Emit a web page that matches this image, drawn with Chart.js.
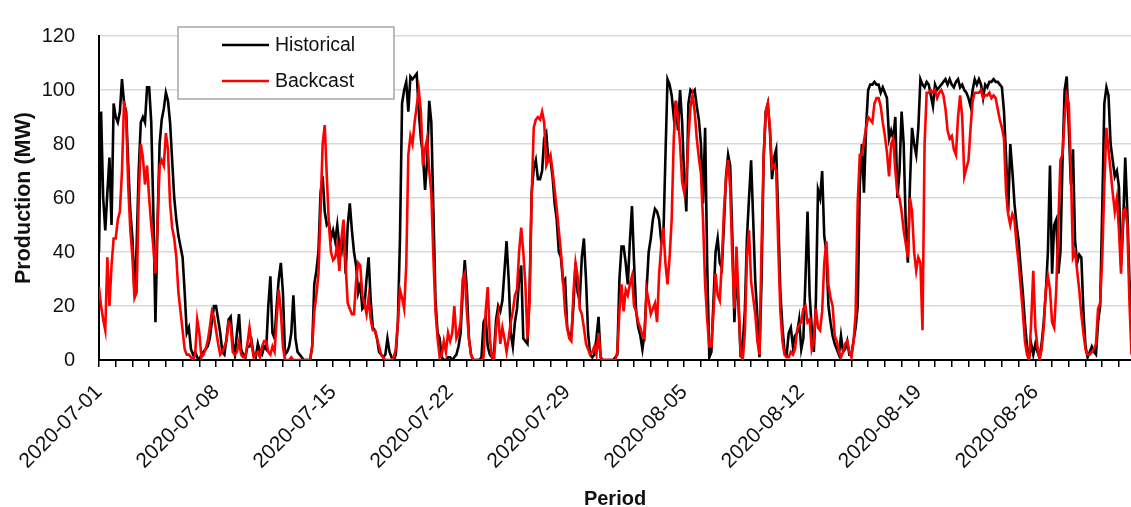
<!DOCTYPE html>
<html>
<head>
<meta charset="utf-8">
<script src="https://cdn.jsdelivr.net/npm/chart.js@4.4.1/dist/chart.umd.min.js"></script>
<style>
  html, body { margin: 0; padding: 0; background: #ffffff; }
  canvas { display: block; }
</style>
</head>
<body>
<canvas id="chart" width="1131" height="507"></canvas>
<script>
// Hourly production sampled every 3 hours, starting 2020-07-01 00:00
const STEP_HOURS = 3;
const weekTickLabels = ['2020-07-01', '2020-07-08', '2020-07-15', '2020-07-22', '2020-07-29',
                        '2020-08-05', '2020-08-12', '2020-08-19', '2020-08-26'];

// Measured production (MW), one row per day
const historical = [
  40, 92, 60, 48, 62, 75, 50, 95,
  90, 88, 92, 104, 95, 92, 72, 55,
  45, 24, 42, 70, 88, 90, 88, 101,
  101, 88, 55, 14, 50, 80, 89, 93,
  99, 96, 88, 74, 60, 52, 46, 42,
  38, 25, 10, 12, 4, 2, 3, 1,
  0, 2, 3, 4, 5, 8, 14, 20,
  20, 15, 10, 3, 2, 8, 15, 16,
  6, 2, 10, 17, 4, 2, 1, 5,
  5, 7, 2, 1, 6, 3, 2, 5,
  4, 20, 31, 10, 8, 20, 30, 36,
  25, 2, 3, 5, 10, 24, 8, 3,
  2, 1, 0, 0, 0, 0, 5, 28,
  33, 40, 62, 68, 55, 50, 51, 45,
  48, 44, 50, 42, 40, 50, 32, 50,
  58, 48, 40, 35, 25, 28, 19, 20,
  30, 38, 22, 12, 11, 8, 3, 2,
  1, 2, 8, 3, 1, 0, 2, 14,
  45, 95, 100, 103, 92, 105, 104, 105,
  106, 92, 82, 76, 63, 74, 96, 88,
  55, 22, 10, 8, 1, 0, 0, 1,
  1, 0, 1, 2, 5, 10, 25, 37,
  26, 8, 2, 0, 0, 0, 0, 1,
  14, 16, 5, 2, 1, 3, 15, 20,
  18, 22, 33, 44, 30, 10, 5, 14,
  19, 30, 35, 8, 7, 6, 25, 62,
  71, 74, 67, 67, 70, 82, 84, 74,
  74, 68, 58, 52, 40, 38, 29, 30,
  12, 9, 9, 20, 36, 25, 22, 38,
  45, 30, 10, 2, 1, 2, 8, 16,
  1, 0, 0, 0, 0, 0, 0, 1,
  2, 30, 42, 42, 36, 28, 44, 57,
  36, 18, 12, 9, 4, 10, 26, 40,
  45, 52, 56, 55, 52, 44, 45, 75,
  104, 102, 98, 90, 96, 85, 100, 88,
  67, 55, 95, 100, 99, 100, 94, 89,
  80, 58, 86, 35, 1, 3, 22, 40,
  45, 36, 34, 50, 68, 76, 72, 46,
  14, 34, 20, 1, 6, 18, 45, 60,
  74, 52, 29, 16, 1, 30, 75, 92,
  95, 85, 67, 75, 78, 52, 25, 12,
  3, 2, 10, 12, 5, 9, 10, 15,
  4, 8, 30, 55, 24, 12, 3, 22,
  63, 60, 70, 46, 40, 20, 14, 9,
  6, 4, 2, 9, 3, 4, 7, 2,
  2, 7, 12, 20, 65, 80, 62, 86,
  100, 102, 102, 103, 102, 102, 99, 101,
  99, 97, 82, 85, 82, 90, 60, 70,
  92, 80, 50, 36, 65, 86, 80, 76,
  86, 104, 102, 101, 103, 102, 98, 94,
  102, 100, 101, 102, 103, 104, 102, 104,
  102, 101, 103, 104, 101, 102, 100, 99,
  97, 94, 100, 104, 102, 104, 102, 97,
  102, 101, 103, 103, 104, 103, 103, 102,
  101, 92, 75, 55, 80, 70, 58, 50,
  44, 34, 25, 14, 5, 1, 6, 2,
  6, 3, 1, 6, 14, 25, 40, 72,
  32, 50, 52, 32, 40, 74, 100, 105,
  86, 65, 78, 44, 36, 39, 38, 18,
  5, 1, 3, 5, 3, 2, 14, 20,
  56, 95, 101, 98, 80, 74, 68, 70,
  64, 35, 50, 75, 55, 30, 15
];

// Backcast production (MW), one row per day
const backcast = [
  27, 20, 15, 11, 38, 20, 35, 45,
  45, 52, 55, 70, 96, 90, 64, 48,
  38, 23, 25, 60, 80, 75, 65, 72,
  60, 50, 42, 32, 50, 72, 74, 72,
  84, 78, 58, 49, 45, 38, 25, 18,
  11, 4, 2, 2, 1, 0, 2, 15,
  10, 1, 2, 4, 7, 12, 18, 16,
  11, 6, 2, 3, 5, 7, 14, 13,
  3, 2, 3, 7, 2, 1, 1, 6,
  12, 6, 1, 2, 3, 1, 5, 7,
  7, 3, 2, 5, 3, 15, 26, 18,
  5, 0, 0, 0, 1, 0, 0, 0,
  0, 0, 0, 0, 0, 0, 5, 18,
  24, 32, 55, 80, 87, 68, 50, 40,
  37, 38, 43, 33, 45, 52, 35, 21,
  19, 17, 17, 29, 36, 35, 24, 21,
  17, 23, 15, 11, 11, 8, 5, 2,
  1, 0, 0, 0, 0, 1, 4, 14,
  26, 23, 19, 35, 76, 83, 80, 88,
  94, 100, 92, 72, 78, 82, 70, 62,
  38, 18, 8, 1, 2, 7, 3, 10,
  7, 10, 20, 8, 10, 14, 30, 32,
  18, 8, 2, 0, 0, 0, 0, 0,
  1, 18, 27, 8, 1, 0, 12, 17,
  6, 12, 8, 3, 8, 14, 18, 24,
  26, 40, 49, 40, 28, 8, 22, 60,
  86, 89, 90, 89, 92, 88, 72, 74,
  76, 70, 63, 56, 48, 40, 30, 18,
  12, 8, 7, 25, 36, 31, 19, 17,
  12, 6, 4, 2, 3, 5, 2, 10,
  1, 0, 0, 0, 0, 0, 0, 0,
  3, 18, 28, 18, 26, 24, 28, 31,
  20, 18, 14, 12, 9, 8, 26, 22,
  17, 19, 21, 14, 32, 42, 49, 36,
  28, 38, 52, 82, 96, 90, 80, 66,
  62, 67, 82, 94, 98, 92, 82, 75,
  69, 52, 28, 15, 5, 5, 18, 32,
  24, 22, 36, 55, 67, 74, 64, 38,
  19, 42, 22, 2, 0, 10, 38, 48,
  29, 23, 17, 7, 2, 42, 75, 92,
  95, 86, 71, 72, 70, 42, 18, 7,
  2, 1, 1, 3, 2, 4, 11, 13,
  14, 19, 20, 14, 15, 4, 7, 19,
  12, 11, 18, 36, 44, 28, 23, 20,
  9, 7, 3, 1, 3, 6, 7, 3,
  1, 7, 17, 58, 76, 76, 81, 86,
  90, 89, 88, 95, 97, 97, 94, 88,
  83, 77, 68, 80, 82, 70, 62, 60,
  55, 48, 43, 38, 60, 55, 40, 33,
  38, 36, 11, 80, 99, 99, 100, 99,
  100, 97, 99, 100, 98, 93, 85, 82,
  83, 78, 76, 90, 98, 90, 68, 71,
  74, 86, 96, 99, 99, 99, 100, 97,
  98, 98, 99, 97, 98, 97, 93, 89,
  86, 82, 62, 54, 50, 54, 52, 43,
  36, 27, 18, 7, 2, 0, 14, 33,
  12, 5, 0, 4, 12, 26, 31, 26,
  14, 12, 26, 50, 74, 76, 90, 98,
  95, 70, 38, 40, 33, 26, 17, 10,
  4, 2, 2, 3, 4, 6, 19, 21,
  38, 65, 86, 78, 70, 62, 55, 60,
  48, 32, 55, 56, 50, 22, 2
];

const HOURS_SHOWN = 61.72 * 24;   // period visible on the x axis
const FONT = "'Liberation Sans', Arial, sans-serif";

const toPoints = arr => arr.map((v, i) => ({ x: i * STEP_HOURS, y: v }));

// Boxed legend in the upper-left part of the plot
const boxedLegend = {
  id: 'boxedLegend',
  afterDatasetsDraw(chart) {
    const ctx = chart.ctx;
    const bx = 178, by = 27, bw = 216, bh = 72;
    ctx.save();
    ctx.fillStyle = '#ffffff';
    ctx.fillRect(bx, by, bw, bh);
    ctx.strokeStyle = '#a6a6a6';
    ctx.lineWidth = 1.5;
    ctx.strokeRect(bx, by, bw, bh);
    const rows = [45, 81];
    chart.data.datasets.forEach((ds, i) => {
      const y = rows[i];
      ctx.strokeStyle = ds.borderColor;
      ctx.lineWidth = 2.6;
      ctx.beginPath();
      ctx.moveTo(222, y);
      ctx.lineTo(269, y);
      ctx.stroke();
      ctx.fillStyle = '#111111';
      ctx.font = `19.5px ${FONT}`;
      ctx.textBaseline = 'middle';
      ctx.textAlign = 'left';
      ctx.fillText(ds.label, 275, y + 1);
    });
    ctx.restore();
  }
};

new Chart(document.getElementById('chart'), {
  type: 'line',
  data: {
    datasets: [
      { label: 'Historical', data: toPoints(historical), borderColor: '#000000',
        borderWidth: 2.6, pointRadius: 0, tension: 0, order: 1 },
      { label: 'Backcast', data: toPoints(backcast), borderColor: '#ff0000',
        borderWidth: 2.6, pointRadius: 0, tension: 0, order: 0 }
    ]
  },
  options: {
    responsive: false,
    animation: false,
    devicePixelRatio: 1,
    layout: { padding: { top: 23, right: 0, bottom: 0, left: 0 } },
    plugins: { legend: { display: false }, tooltip: { enabled: false } },
    scales: {
      x: {
        type: 'linear',
        min: 0,
        max: HOURS_SHOWN,
        afterBuildTicks: scale => {
          const ticks = [];
          for (let h = 0; h <= HOURS_SHOWN; h += 24) ticks.push({ value: h });
          scale.ticks = ticks;
        },
        afterFit: scale => {
          scale.height = 147;
          scale.paddingLeft = 0;
          scale.paddingRight = 0;
        },
        ticks: {
          autoSkip: false,
          minRotation: 45,
          maxRotation: 45,
          padding: 13,
          color: '#111111',
          font: { family: FONT, size: 21 },
          callback: value => {
            const day = Math.round(value / 24);
            return day % 7 === 0 ? (weekTickLabels[day / 7] || '') : '';
          }
        },
        grid: { drawOnChartArea: false, drawTicks: true, tickLength: 7, color: '#000000', lineWidth: 1.5 },
        border: { display: true, color: '#000000', width: 2 },
        title: {
          display: true, text: 'Period', color: '#111111',
          font: { family: FONT, size: 20, weight: 'bold', lineHeight: 0.8 },
          padding: { top: 0, bottom: 0 }
        }
      },
      y: {
        min: 0,
        max: 120,
        afterFit: scale => { scale.width = 99; },
        ticks: {
          stepSize: 20,
          padding: 24,
          color: '#111111',
          font: { family: FONT, size: 20 }
        },
        grid: { color: '#d9d9d9', lineWidth: 1.5, drawTicks: false },
        border: { display: true, color: '#000000', width: 2 },
        title: {
          display: true, text: 'Production (MW)', color: '#111111',
          font: { family: FONT, size: 21.5, weight: 'bold', lineHeight: 1 },
          padding: { top: 13, bottom: 0 }
        }
      }
    }
  },
  plugins: [boxedLegend]
});
</script>
</body>
</html>
